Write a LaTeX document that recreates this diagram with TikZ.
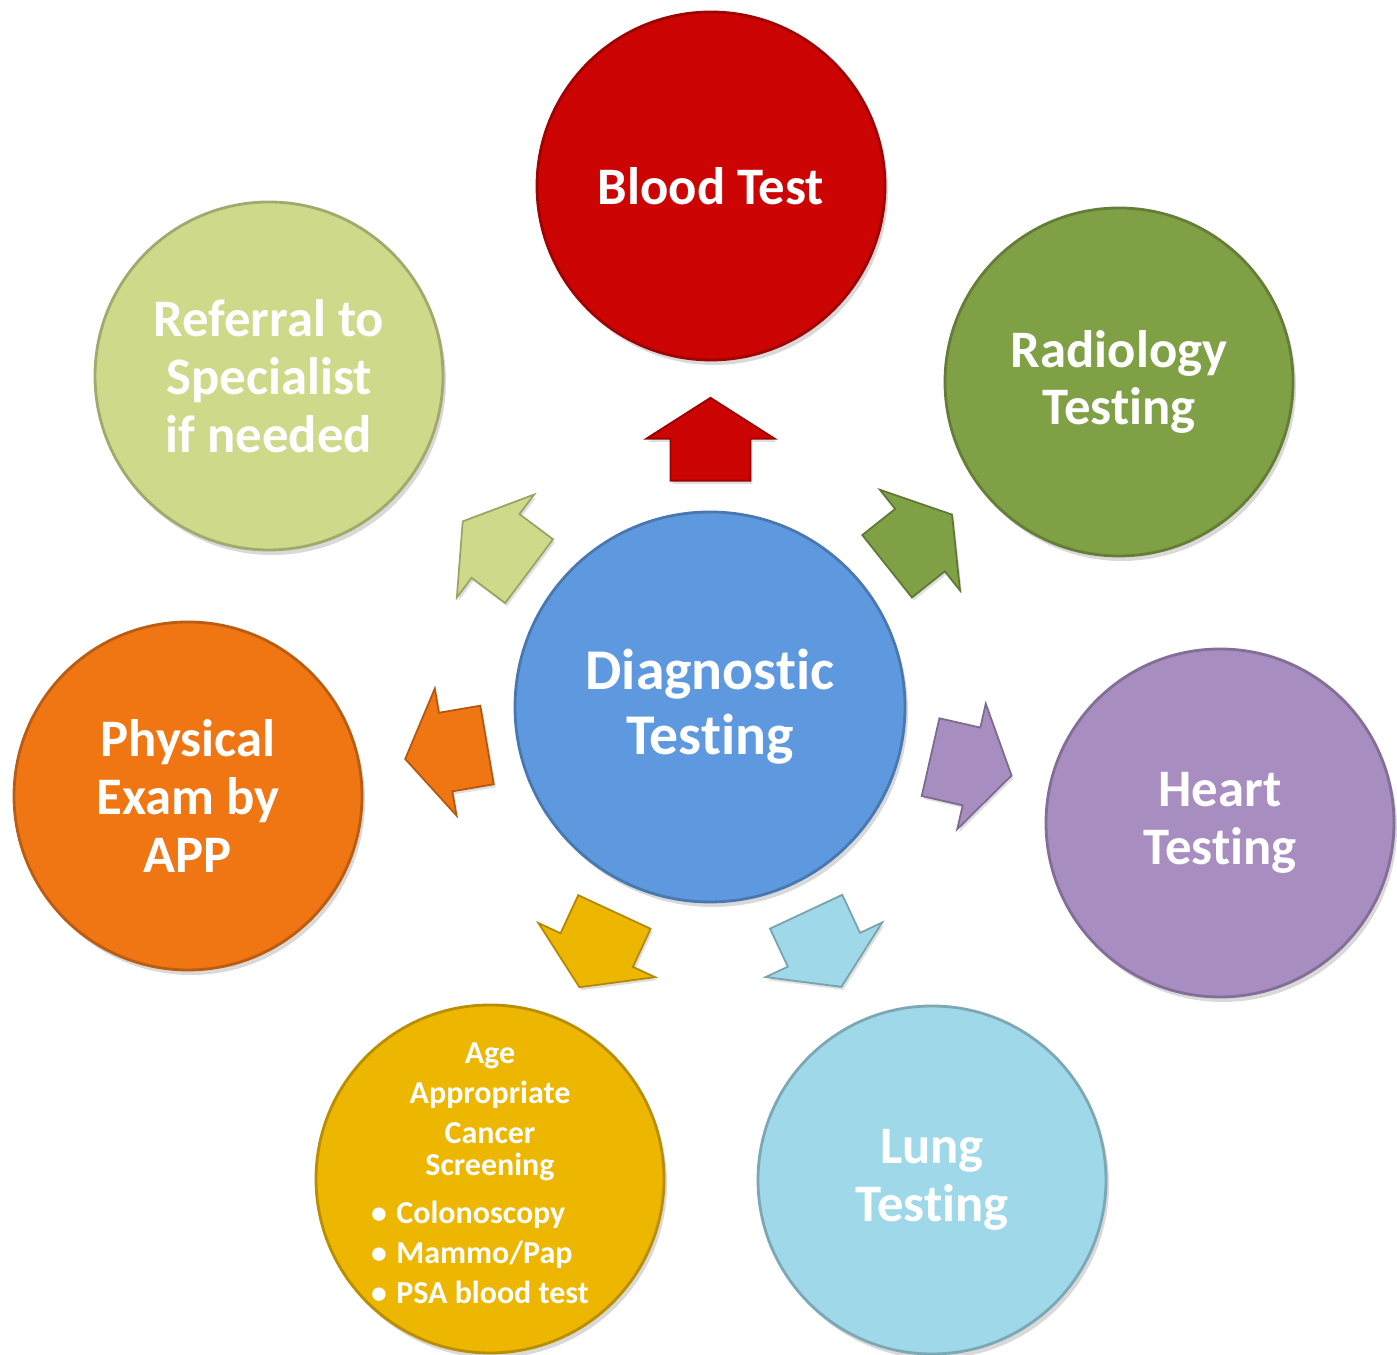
\documentclass[tikz,border=0pt]{standalone}
\usepackage{fontspec}
\setmainfont{Carlito}[Ligatures=NoCommon]
\definecolor{dtBlue}{HTML}{5E99E0}
\definecolor{dtRed}{HTML}{CC0404}
\definecolor{dtOlive}{HTML}{80A046}
\definecolor{dtPurple}{HTML}{A78DC0}
\definecolor{dtSky}{HTML}{9FD8E8}
\definecolor{dtGold}{HTML}{EDB600}
\definecolor{dtOrange}{HTML}{F07614}
\definecolor{dtLime}{HTML}{CFD98A}
\usetikzlibrary{calc,positioning,shapes.arrows,shadows}

\begin{document}
\begin{tikzpicture}[
  bubble/.style={circle, fill=#1, draw=#1!78!black, line width=0.8pt,
    minimum size=3.48cm, inner sep=0pt, align=center, text=white,
    font=\fontsize{15}{16.5}\selectfont\bfseries,
    drop shadow={opacity=0.3, shadow xshift=0.03cm, shadow yshift=-0.05cm}},
  pointer/.style={single arrow, fill=#1, draw=#1!75!black, line width=0.5pt,
    minimum height=0.83cm, inner xsep=0pt, inner ysep=0.39cm,
    single arrow head extend=0.245cm, single arrow tip angle=115,
    drop shadow={opacity=0.25, shadow xshift=0.02cm, shadow yshift=-0.03cm}}
]
  \useasboundingbox (0,0) rectangle (13.97,13.55);

  % hub and the seven tests around it
  \node[bubble=dtBlue, minimum size=3.9cm, font=\fontsize{16.4}{18.5}\selectfont\bfseries]
    (diag) at (7.10,6.48) {Diagnostic\\Testing};
  \node[bubble=dtRed] (blood) at (7.11,11.69) {Blood Test};
  \node[bubble=dtOlive] (radio) at (11.19,9.73) {Radiology\\Testing};
  \node[bubble=dtPurple] (heart) at (12.20,5.32) {Heart\\Testing};
  \node[bubble=dtSky] (lung) at (9.32,1.75) {Lung\\Testing};
  \node[bubble=dtGold, font=\fontsize{9.1}{11.4}\selectfont\bfseries] (cancer) at (4.90,1.76)
    {Age\\Appropriate\\Cancer\\[-2.3pt]Screening\\[2.3pt]
     \hspace*{-0.2cm}\begin{tabular}[t]{@{}l@{}}
       {\small\textbullet}\hspace{0.3em}Colonoscopy\\
       {\small\textbullet}\hspace{0.3em}Mammo/Pap\\
       {\small\textbullet}\hspace{0.3em}PSA blood test
     \end{tabular}};
  \node[bubble=dtOrange] (exam) at (1.88,5.59) {Physical\\Exam by\\APP};
  \node[bubble=dtLime] (referral) at (2.69,9.79) {Referral to\\Specialist\\if needed};

  % block arrows pointing out of the hub
  \node[pointer=dtRed, rotate=90] (toblood) at ($(diag)!2.55cm!(blood)$) {};
  \node[pointer=dtOlive, rotate=38.5] (toradio) at ($(diag)!2.55cm!(radio)$) {};
  \node[pointer=dtPurple, rotate=-12.8] (toheart) at ($(diag)!2.55cm!(heart)$) {};
  \node[pointer=dtSky, rotate=-64.9] (tolung) at ($(diag)!2.55cm!(lung)$) {};
  \node[pointer=dtGold, rotate=-114.9] (tocancer) at ($(diag)!2.55cm!(cancer)$) {};
  \node[pointer=dtOrange, rotate=189.7] (toexam) at ($(diag)!2.55cm!(exam)$) {};
  \node[pointer=dtLime, rotate=143.1] (toreferral) at ($(diag)!2.55cm!(referral)$) {};
\end{tikzpicture}
\end{document}
